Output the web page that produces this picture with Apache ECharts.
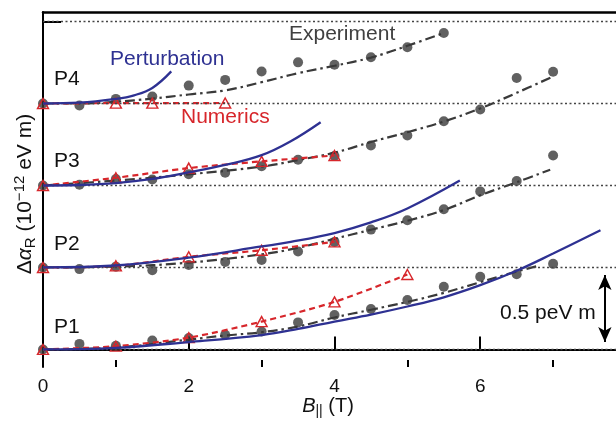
<!DOCTYPE html>
<html>
<head>
<meta charset="utf-8">
<script src="https://cdn.jsdelivr.net/npm/echarts@6/dist/echarts.min.js"></script>
<style>
  html, body { margin: 0; padding: 0; background: #fff; }
  #chart { width: 616px; height: 428px; }
</style>
</head>
<body>
<div id="chart"></div>
<script>
// field values B (T) and offsets of each curve (10^-12 eV m, P2..P4 shifted by 0.5 each)
const expX = [0, 0.5, 1, 1.5, 2, 2.5, 3, 3.5, 4, 4.5, 5, 5.5, 6, 6.5, 7];
const expP1 = [0, 0.034, 0.023, 0.054, 0.07, 0.09, 0.109, 0.165, 0.21, 0.247, 0.302, 0.382, 0.443, 0.459, 0.522];
const expP2 = [0.5, 0.49, 0.505, 0.483, 0.515, 0.534, 0.546, 0.597, 0.656, 0.731, 0.788, 0.855, 0.964, 1.027, 1.183];
const expP3 = [1.0, 1.005, 1.04, 1.037, 1.068, 1.078, 1.118, 1.157, 1.18, 1.244, 1.305, 1.392, 1.463, 1.656, 1.694];
const expP4 = [1.5, 1.488, 1.528, 1.543, 1.609, 1.644, 1.695, 1.751, 1.736, 1.782, 1.843, 1.93];

const fitP1x = [0, 1, 2, 2.5, 3, 3.5, 4, 4.5, 5, 5.5, 6, 6.5, 6.8];
const fitP1 = [0, 0.012, 0.06, 0.085, 0.105, 0.14, 0.195, 0.242, 0.29, 0.345, 0.41, 0.475, 0.51];
const fitP2x = [0, 1, 2, 3, 3.5, 4, 4.5, 5, 5.5, 6, 6.5, 6.96];
const fitP2 = [0.5, 0.505, 0.53, 0.58, 0.62, 0.675, 0.73, 0.785, 0.85, 0.94, 1.02, 1.096];
const fitP3x = [0, 1, 2, 3, 3.5, 4, 4.5, 5, 5.5, 6, 6.5, 7];
const fitP3 = [1.0, 1.03, 1.068, 1.115, 1.155, 1.2, 1.265, 1.325, 1.39, 1.47, 1.565, 1.665];
const fitP4x = [0, 0.5, 1, 1.5, 2, 2.5, 3, 3.5, 4, 4.5, 5, 5.5];
const fitP4 = [1.5, 1.5, 1.51, 1.53, 1.555, 1.58, 1.63, 1.685, 1.73, 1.78, 1.852, 1.93];

const numP1x = [0, 1, 2, 3, 4, 5];
const numP1 = [0, 0.02, 0.072, 0.17, 0.29, 0.457];
const numP2x = [0, 1, 2, 3, 4];
const numP2 = [0.5, 0.51, 0.565, 0.605, 0.656];
const numP3x = [0, 1, 2, 3, 4];
const numP3 = [1.0, 1.047, 1.106, 1.147, 1.183];
const numP4x = [0, 1, 1.5, 2.5];
const numP4 = [1.5, 1.502, 1.502, 1.503];

const perP1x = [0, 1, 2, 3, 3.5, 4, 4.5, 5, 5.5, 6, 6.5, 7, 7.65];
const perP1 = [0, 0.01, 0.045, 0.088, 0.125, 0.17, 0.213, 0.262, 0.318, 0.392, 0.48, 0.585, 0.727];
const perP2x = [0, 1, 2, 3, 3.4, 4, 4.5, 5, 5.72];
const perP2 = [0.5, 0.512, 0.56, 0.628, 0.656, 0.71, 0.775, 0.86, 1.03];
const perP3x = [0, 0.5, 1, 1.5, 2, 2.5, 3, 3.4, 3.81];
const perP3 = [1.0, 1.003, 1.015, 1.04, 1.08, 1.125, 1.185, 1.27, 1.386];
const perP4x = [0, 0.5, 1, 1.25, 1.5, 1.76];
const perP4 = [1.5, 1.505, 1.528, 1.55, 1.595, 1.696];

const baselines = [0, 0.5, 1, 1.5, 2];
const scaleBar = [0, 0.5];
const majorTicks = [0, 2, 4, 6];
const minorTicks = [1, 3, 5, 7];

let FONT = '"Liberation Sans", Arial, sans-serif';
let BLUE = '#2e3192';
let RED = '#d7262b';
let GRAY = '#3a3a3a';
let XMAX = 7.863;

let zip = function(xs, ys) {
    return ys.map(function(y, i) { return [xs[i], y]; });
};

let fitSeries = function(xs, ys) {
    return {
        type: 'line', data: zip(xs, ys), smooth: 0.4, showSymbol: false, silent: true,
        lineStyle: { color: GRAY, width: 2.2, type: [10, 4, 2.5, 4] }, z: 2
    };
};
let expSeries = function(ys) {
    return {
        type: 'scatter', data: zip(expX, ys), symbol: 'circle', symbolSize: 10, silent: true,
        itemStyle: { color: GRAY }, z: 3
    };
};
let numSeries = function(xs, ys) {
    return {
        type: 'line', data: zip(xs, ys), smooth: 0.3, symbol: 'triangle', symbolSize: [11, 10],
        showAllSymbol: true, silent: true,
        lineStyle: { color: RED, width: 2.2, type: [6, 4] },
        itemStyle: { color: 'rgba(0,0,0,0)', borderColor: RED, borderWidth: 1.4 }, z: 4
    };
};
let perSeries = function(xs, ys) {
    return {
        type: 'line', data: zip(xs, ys), smooth: 0.4, showSymbol: false, silent: true,
        lineStyle: { color: BLUE, width: 2.3 }, z: 5
    };
};

let guides = fitSeries(fitP1x, fitP1);
guides.markLine = {
    silent: true, symbol: 'none', animation: false,
    label: { show: false },
    lineStyle: { color: '#444', width: 1.3, type: [2, 2.5] },
    data: baselines.map(function(v) { return { yAxis: v }; })
};

let bar = {
    type: 'line', data: [], silent: true,
    markLine: {
        silent: true, symbol: ['arrow', 'arrow'], symbolSize: [10, 15], animation: false,
        label: { show: false },
        lineStyle: { color: '#000', width: 2, type: 'solid' },
        data: [[{ coord: [7.71, scaleBar[0] + 0.046] }, { coord: [7.71, scaleBar[1] - 0.046] }]]
    }
};

let txt = function(x, y, text, color) {
    return {
        type: 'text', silent: true,
        style: { text: text, x: x, y: y, fill: color, fontSize: 21, fontFamily: FONT, verticalAlign: 'middle' }
    };
};

let myChart = echarts.init(document.getElementById('chart'), null, { renderer: 'canvas' });

let options = {
    animation: false,
    grid: { left: 43, right: 0, top: 12, bottom: 61 },
    xAxis: [
        {
            type: 'value', min: 0, max: XMAX, interval: 1,
            axisLine: { lineStyle: { color: '#000', width: 2 } },
            axisTick: { inside: true, length: 13, customValues: majorTicks, lineStyle: { color: '#000', width: 2 } },
            splitLine: { show: false },
            axisLabel: {
                margin: 10, fontSize: 19, fontFamily: FONT, color: '#111',
                customValues: majorTicks
            }
        },
        {
            type: 'value', position: 'bottom', min: 0, max: XMAX,
            axisLine: { show: false },
            axisTick: { show: true, inside: true, length: 7, customValues: minorTicks, lineStyle: { color: '#000', width: 2 } },
            axisLabel: { show: false }, splitLine: { show: false }
        },
        {
            type: 'value', position: 'top', min: 0, max: XMAX,
            axisLine: { show: true, lineStyle: { color: '#000', width: 2.5 } },
            axisTick: { show: false }, axisLabel: { show: false }, splitLine: { show: false }
        }
    ],
    yAxis: {
        type: 'value', min: -0.107, max: 2.058,
        axisLine: { show: true, lineStyle: { color: '#000', width: 2 } },
        axisTick: { show: true, inside: true, length: 18, customValues: [2], lineStyle: { color: '#000', width: 2 } },
        axisLabel: { show: false },
        splitLine: { show: false }
    },
    series: [
        guides,
        fitSeries(fitP2x, fitP2),
        fitSeries(fitP3x, fitP3),
        fitSeries(fitP4x, fitP4),
        expSeries(expP1),
        expSeries(expP2),
        expSeries(expP3),
        expSeries(expP4),
        numSeries(numP1x, numP1),
        numSeries(numP2x, numP2),
        numSeries(numP3x, numP3),
        numSeries(numP4x, numP4),
        perSeries(perP1x, perP1),
        perSeries(perP2x, perP2),
        perSeries(perP3x, perP3),
        perSeries(perP4x, perP4),
        bar
    ],
    graphic: [
        txt(110, 59, 'Perturbation', BLUE),
        txt(289, 34.5, 'Experiment', '#404040'),
        txt(181, 117, 'Numerics', RED),
        txt(54, 79.5, 'P4', '#111'),
        txt(54, 161.5, 'P3', '#111'),
        txt(54, 244.5, 'P2', '#111'),
        txt(54, 327, 'P1', '#111'),
        txt(500, 313, '0.5 peV m', '#111'),
        {
            type: 'text', silent: true, x: 328, y: 406,
            style: {
                text: '{i|B}{s|||} (T)', fill: '#111', fontSize: 20, fontFamily: FONT,
                align: 'center', verticalAlign: 'middle', lineHeight: 24,
                rich: {
                    i: { fontStyle: 'italic', fontSize: 20, fontFamily: FONT, lineHeight: 24 },
                    s: { fontSize: 14, fontFamily: FONT, verticalAlign: 'bottom', lineHeight: 24 }
                }
            }
        },
        {
            type: 'text', silent: true, x: 25, y: 194, rotation: Math.PI / 2,
            style: {
                text: 'Δ{a|α}{s|R} (10{u|−12} eV m)', fill: '#111', fontSize: 21, fontFamily: FONT,
                align: 'center', verticalAlign: 'middle', lineHeight: 26,
                rich: {
                    a: { fontStyle: 'italic', fontSize: 21, fontFamily: FONT, lineHeight: 26 },
                    s: { fontSize: 15, fontFamily: FONT, verticalAlign: 'bottom', lineHeight: 26 },
                    u: { fontSize: 15, fontFamily: FONT, verticalAlign: 'top', lineHeight: 26 }
                }
            }
        }
    ]
};

myChart.setOption(options);

window.onresize = function() {
    myChart.resize();
};
</script>
</body>
</html>
